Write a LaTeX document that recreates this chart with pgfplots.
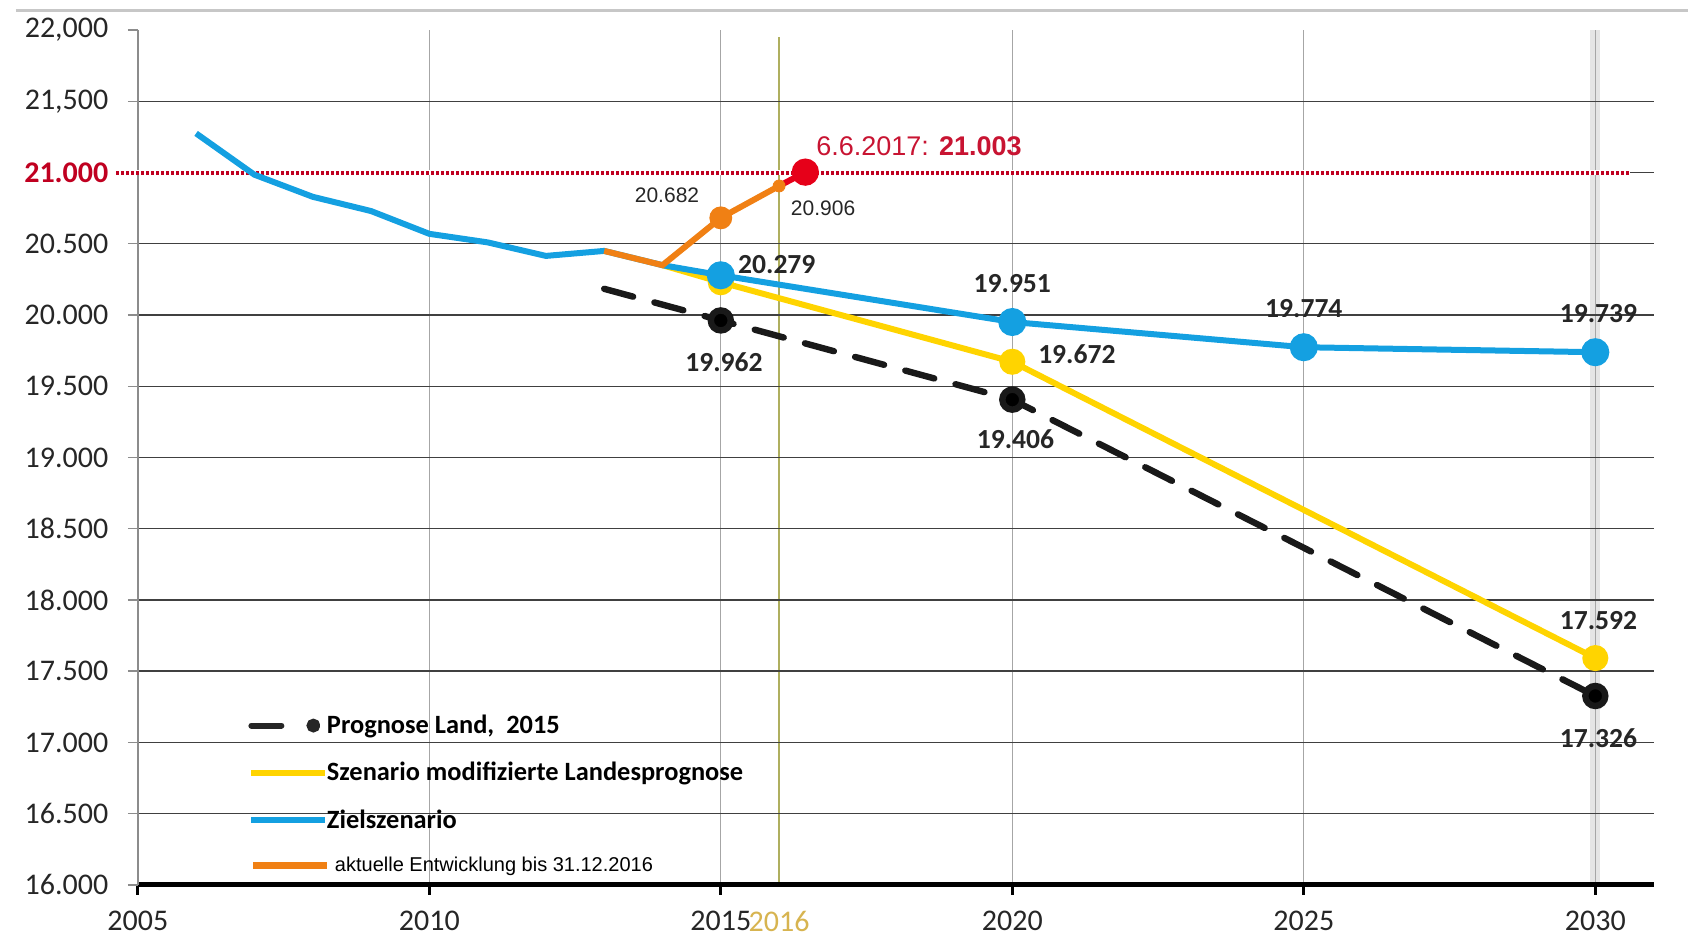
\documentclass[border=0pt]{standalone}
\usepackage{fontspec}
\setmainfont{Carlito}
\newfontfamily\arialfont{Liberation Sans}
\usepackage{pgfplots}
\pgfplotsset{compat=1.18}

\definecolor{zielblue}{RGB}{20,160,225}
\definecolor{modyellow}{RGB}{255,212,0}
\definecolor{devorange}{RGB}{240,128,20}
\definecolor{nowred}{RGB}{230,0,25}
\definecolor{dotred}{RGB}{192,0,32}
\definecolor{datered}{RGB}{200,20,50}
\definecolor{yearolive}{RGB}{175,175,95}
\definecolor{yeargold}{RGB}{215,180,80}

\begin{document}
\begin{tikzpicture}
\begin{axis}[
  scale only axis, width=757.9pt, height=427.4pt,
  xmin=2005, xmax=2031, ymin=16000, ymax=22000,
  set layers, clip=false,
  scaled x ticks=false, scaled y ticks=false,
  axis lines*=left,
  x axis line style={black, line width=2.4pt},
  y axis line style={black!45, line width=0.7pt},
  tick align=outside,
  xtick={2005,2010,...,2030},
  xticklabels={2005,2010,2015,2020,2025,2030},
  extra x ticks={2016},
  extra x tick labels={\textcolor{yeargold}{2016}},
  extra x tick style={grid=none, tick style={draw=none}},
  ytick={16000,16500,...,21500},
  yticklabels={16.000,16.500,17.000,17.500,18.000,18.500,19.000,19.500,20.000,20.500,{\textcolor{dotred}{\bfseries 21.000}},{21{,}500}},
  extra y ticks={22000},
  extra y tick labels={{22{,}000}},
  extra y tick style={grid=none},
  xtick style={black, line width=1.6pt},
  ytick style={black!45, line width=0.7pt},
  major tick length=5pt,
  ymajorgrids, y grid style={black!75, line width=0.7pt},
  xmajorgrids, x grid style={black!35, line width=0.5pt},
  ticklabel style={font=\fontsize{15}{16}\selectfont, text=black!85},
  yticklabel style={xshift=-6.2pt},
  xticklabel style={yshift=-4.5pt},
  legend style={at={(rel axis cs:0.0727,0.2018)}, anchor=north west,
    draw=none, fill=none, row sep=10.9pt, column sep=-3pt,
    font=\bfseries\fontsize{13.2}{14}\selectfont, inner sep=0pt,
    nodes={inner sep=1pt}},
  legend cell align=left,
]

% frame bands behind the grid: the year 2016 and the 2030 column
\addplot[on layer=axis background, black!10, line width=5pt, forget plot]
  coordinates {(2030,16000) (2030,22000)};
\addplot[on layer=axis background, yearolive, line width=0.7pt, forget plot]
  coordinates {(2016,16000) (2016,21950)};

% threshold 21.000
\addplot[white, line width=2.4pt, forget plot]
  coordinates {(2004.63,21000) (2030.6,21000)};
\addplot[dotred, line width=2pt, dash pattern=on 1.4pt off 1.1pt, forget plot]
  coordinates {(2004.63,21000) (2030.6,21000)};

% Prognose Land 2015
\addplot[black!90, line width=3.2pt, dash pattern=on 15pt off 11pt, line cap=round,
  mark=*, mark size=5pt, mark options={solid, fill=black}, mark indices={2,3,4},
  legend image code/.code={
    \draw[black!85, line width=3pt, line cap=round] (0pt,0pt) -- (16pt,0pt);
    \fill[black!85] (31pt,0pt) circle (1.8pt);}]
  coordinates {(2013,20184) (2015,19962) (2020,19406) (2030,17326)};
\addlegendentry{Prognose Land,\ \ 2015}

% Szenario modifizierte Landesprognose
\addplot[modyellow, line width=3pt, mark=*, mark size=5pt, mark indices={2,3,4},
  legend image code/.code={
    \draw[modyellow, line width=3pt] (0pt,0pt) -- (37pt,0pt);}]
  coordinates {(2014,20350) (2015,20230) (2020,19672) (2030,17592)};
\addlegendentry{Szenario modifizierte Landesprognose}

% Zielszenario
\addplot[zielblue, line width=3pt, mark=*, mark size=5.5pt, mark indices={10,11,12,13},
  legend image code/.code={
    \draw[zielblue, line width=3pt] (0pt,0pt) -- (37pt,0pt);}]
  coordinates {(2006,21275) (2007,20985) (2008,20830) (2009,20730) (2010,20570)
    (2011,20510) (2012,20415) (2013,20450) (2014,20350) (2015,20279)
    (2020,19951) (2025,19774) (2030,19739)};
\addlegendentry{Zielszenario}

% aktuelle Entwicklung
\addplot[devorange, line width=3pt, mark=*, mark size=4.2pt, mark indices={3},
  legend image code/.code={
    \draw[devorange, line width=3.6pt] (1pt,0pt) -- (38pt,0pt);}]
  coordinates {(2013,20450) (2014,20350) (2015,20682) (2016,20906)};
\addlegendentry{\mdseries\arialfont\fontsize{10}{11}\selectfont\hspace{4pt}aktuelle Entwicklung bis 31.12.2016}
\addplot[devorange, mark=*, mark size=3pt, only marks, forget plot]
  coordinates {(2016,20906)};

% Stand 6.6.2017
\addplot[nowred, line width=3pt, mark=*, mark size=5.3pt, mark indices={2}, forget plot]
  coordinates {(2016,20906) (2016.45,21003)};

% value labels
\begin{scope}[every node/.style={font=\bfseries\fontsize{13.8}{14}\selectfont, text=black!85, inner sep=0pt}]
\node[xshift=28pt, yshift=5.4pt]  at (axis cs:2015,20279) {20.279};
\node[xshift=1.6pt, yshift=-21pt] at (axis cs:2015,19962) {19.962};
\node[yshift=19.4pt] at (axis cs:2020,19951) {19.951};
\node[xshift=32.3pt, yshift=3.8pt] at (axis cs:2020,19672) {19.672};
\node[xshift=1.6pt, yshift=-19.9pt] at (axis cs:2020,19406) {19.406};
\node[yshift=19.4pt] at (axis cs:2025,19774) {19.774};
\node[xshift=1.6pt, yshift=19.4pt] at (axis cs:2030,19739) {19.739};
\node[xshift=1.6pt, yshift=18.8pt] at (axis cs:2030,17592) {17.592};
\node[xshift=1.6pt, yshift=-21pt] at (axis cs:2030,17326) {17.326};
\end{scope}
\node[font=\arialfont\fontsize{10.5}{11}\selectfont, text=black!85, xshift=-26.9pt, yshift=11.4pt]
  at (axis cs:2015,20682) {20.682};
\node[font=\arialfont\fontsize{10.5}{11}\selectfont, text=black!85, xshift=22pt, yshift=-11pt]
  at (axis cs:2016,20906) {20.906};
\node[font=\arialfont\fontsize{13.5}{14}\selectfont, text=datered, anchor=west, xshift=2pt, yshift=12.9pt]
  at (axis cs:2016.45,21003) {6.6.2017: \textbf{21.003}};
\end{axis}
\draw[black!22, line width=1.6pt] (-60.9pt,437.05pt) -- (775.1pt,437.05pt);
\pgfresetboundingbox
\path[use as bounding box] (-68.9pt,-26.05pt) rectangle (775.1pt,442.45pt);
\end{tikzpicture}
\end{document}
